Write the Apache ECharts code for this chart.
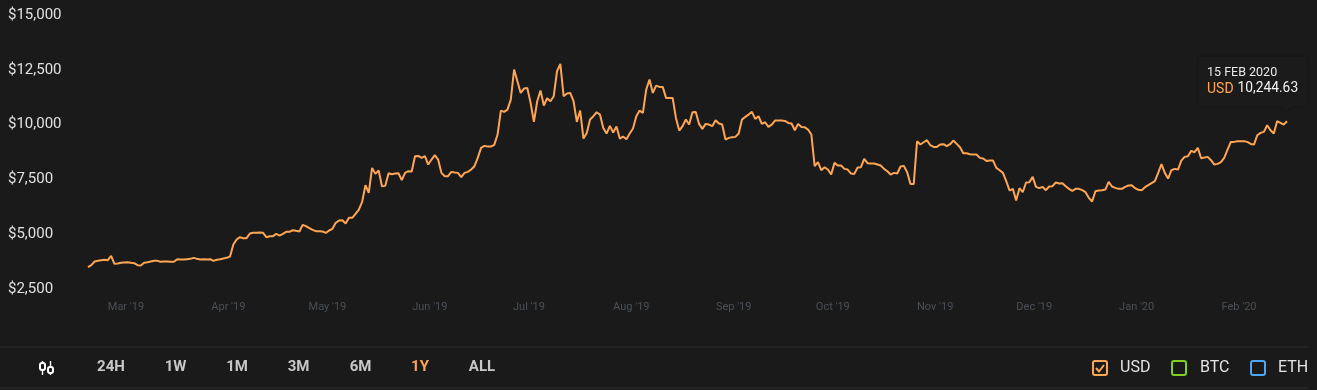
<!DOCTYPE html>
<html><head><meta charset="utf-8">
<style>html,body{margin:0;padding:0;background:#1a1a1a}#c{width:1317px;height:390px}</style>
<script src="https://cdn.jsdelivr.net/npm/echarts@6/dist/echarts.min.js"></script></head>
<body><div id="c"></div>
<script>
const startDate = [2019, 1, 16];
const usd = [
3587,3679,3846,3876,3907,3922,3907,4104,3739,3755,3785,3800,3815,3785,3770,3679,3663,3785,3815,3846,3876,3876,3831,3846,3846,3831,3831,3952,3937,3937,3952,3967,4013,3967,3937,3952,3937,3952,3876,3922,3952,3983,4013,4074,4621,4849,4955,4910,4910,5123,5153,5153,5168,5153,4955,5001,5001,5107,5031,5107,5199,5199,5275,5244,5214,5518,5457,5366,5290,5229,5229,5214,5153,5260,5336,5609,5715,5731,5579,5837,5837,6019,6217,6567,7327,6977,
8117,7843,7995,7281,7296,7874,7828,7859,7874,7555,7889,7965,7950,8649,8664,8573,8649,8269,8497,8695,8497,7889,7737,7737,7935,7904,7889,7691,7889,7935,8041,8193,8573,9029,9120,9090,9090,9166,9637,10731,10671,10777,11233,12601,12069,11537,11735,11765,11081,10215,11157,11643,10959,11294,11157,11385,12525,12859,11385,11507,11537,11157,10215,10731,9455,9713,10321,10473,10655,10549,9941,9683,10032,9728,10002,9455,9546,9424,9683,9911,10473,10731,
10625,11689,12145,11537,11871,11811,11811,11309,11309,11309,10397,9819,10017,10321,10093,10655,10671,10123,9895,10123,10093,10017,10291,10139,10093,9409,9485,9515,9531,9683,10321,10443,10549,10671,10351,10473,10123,10199,9987,10093,10275,10275,10275,10260,10169,10139,9835,10123,9987,9971,9865,9637,8193,8375,8011,8147,8041,7813,8345,8223,8223,8071,8041,7859,7843,8132,8147,8527,8330,8315,8315,8269,8223,8071,7965,7813,7889,7859,8178,8208,7919,7387,7387,
9333,9181,9287,9379,9151,9075,9075,9181,9196,9105,9196,9363,9211,9059,8786,8786,8740,8725,8725,8573,8543,8436,8451,8451,8117,8011,7889,7509,7083,7159,6627,7190,7007,7448,7463,7707,7251,7190,7251,7099,7266,7281,7448,7403,7418,7281,7159,7068,7159,7159,7099,7007,6749,6582,7053,7083,7099,7129,7479,7266,7205,7159,7159,7251,7311,7327,7190,7114,7099,7235,7327,7418,7509,7889,8284,7889,7631,8011,8072,8041,8451,8619,8649,8892,8831,9029,8558,8588,8619,8467,8269,8299,8375,8573,8953,9303,9303,9333,9333,9333,9303,9211,9181,9607,9713,9759,10063,9835,9683,10245,10169,10093,10244.63];
const yTicks = [2500, 5000, 7500, 10000, 12500, 15000];
const ranges = ["24H", "1W", "1M", "3M", "6M", "1Y", "ALL"];
const rangeX = [111, 175.5, 237, 298.5, 360.5, 420, 482];
const activeRange = "1Y";
const currencies = ["USD", "BTC", "ETH"];
const currencyColors = ["#ffa654", "#7ed321", "#4da6f5"];
const tipDate = "15 FEB 2020";
const tipCurrency = "USD";
const tipValue = "10,244.63";
const monthNames = ["Jan","Feb","Mar","Apr","May","Jun","Jul","Aug","Sep","Oct","Nov","Dec"];

const dates = usd.map((_, i) => new Date(Date.UTC(startDate[0], startDate[1], startDate[2] + i)));
const cats = dates.map(d => d.toISOString().slice(0, 10));
const fm = "Roboto, sans-serif";
const g = [];
// footer rules
[347, 388].forEach(y => g.push({type:'line', shape:{x1:0,y1:y,x2:1308,y2:y}, style:{stroke:'#2e2e2e', lineWidth:1}}));
// candlestick icon
[[42,'#fff'],[50,'#fff']].forEach(([x,c],k) => {
  g.push({type:'line', shape:{x1:x+.5,y1:361,x2:x+.5,y2:375}, style:{stroke:c,lineWidth:1.4}});
  g.push({type:'rect', shape:{x:x-2,y:k?367:363,width:5,height:k?6:7,r:2}, style:{fill:'#1a1a1a',stroke:c,lineWidth:2}});
});
ranges.forEach((r, i) => g.push({type:'text', x:rangeX[i], y:367, style:{text:r, align:'center', verticalAlign:'middle',
  fill:r===activeRange?'#ffa654':'#c8c8c8', font:'700 15px '+fm}}));
// currency checkboxes
const boxX = [1093, 1172, 1251], labX = [1120, 1200, 1278];
currencies.forEach((c, i) => {
  g.push({type:'rect', shape:{x:boxX[i],y:361,width:14,height:14,r:2}, style:{fill:'none',stroke:currencyColors[i],lineWidth:2}});
  g.push({type:'text', x:labX[i], y:368, style:{text:c, fill:'#e4e4e4', font:'400 16px '+fm, verticalAlign:'middle'}});
});
g.push({type:'polyline', shape:{points:[[1096,368],[1099,371.5],[1104,365]]}, style:{stroke:'#ffa654',lineWidth:2,fill:'none'}});
// tooltip box
g.push({type:'polygon', shape:{points:[[1199,57],[1307,57],[1307,106],[1292,106],[1286,111],[1280,106],[1199,106]]},
  style:{fill:'#1b1b1b', shadowBlur:3, shadowColor:'rgba(0,0,0,.3)'}});
g.push({type:'text', x:1207, y:72.5, style:{text:tipDate, fill:'#e8e8e8', font:'400 12.5px '+fm, verticalAlign:'middle'}});
g.push({type:'text', x:1207, y:89, style:{text:tipCurrency, fill:'#ffa654', font:'400 14px '+fm, verticalAlign:'middle'}});
g.push({type:'text', x:1237.5, y:89, style:{text:tipValue, fill:'#f2f2f2', font:'400 13.8px '+fm, verticalAlign:'middle'}});

const chart = echarts.init(document.getElementById('c'), null, {renderer:'canvas'});
chart.setOption({
  animation:false, backgroundColor:'#1a1a1a',
  grid:{left:88, right:30, top:17, bottom:99, containLabel:false, outerBoundsMode:'none'},
  xAxis:{type:'category', data:cats, boundaryGap:false,
    axisLine:{show:false}, axisTick:{show:false}, splitLine:{show:false},
    axisLabel:{interval:(i)=>dates[i].getUTCDate()===1, hideOverlap:false, margin:11,
      padding:[0,10,0,0], color:'#4a5056', fontFamily:fm, fontSize:11,
      formatter:(v)=>{const d=new Date(v+'T00:00:00Z');return monthNames[d.getUTCMonth()]+" '"+String(d.getUTCFullYear()).slice(2);}}},
  yAxis:{type:'value', min:yTicks[0], max:yTicks[yTicks.length-1], interval:2500,
    axisLine:{show:false}, axisTick:{show:false}, splitLine:{show:false},
    axisLabel:{align:'left', verticalAlign:'bottom', lineHeight:4, margin:80, color:'#e0e0e0', fontFamily:fm, fontSize:15,
      formatter:(v)=>'$'+v.toLocaleString('en-US')}},
  series:[{type:'line', data:usd, showSymbol:false, smooth:false, lineStyle:{color:'#ffa654', width:2}, itemStyle:{color:'#ffa654'}}],
  graphic:g
});
</script></body></html>
